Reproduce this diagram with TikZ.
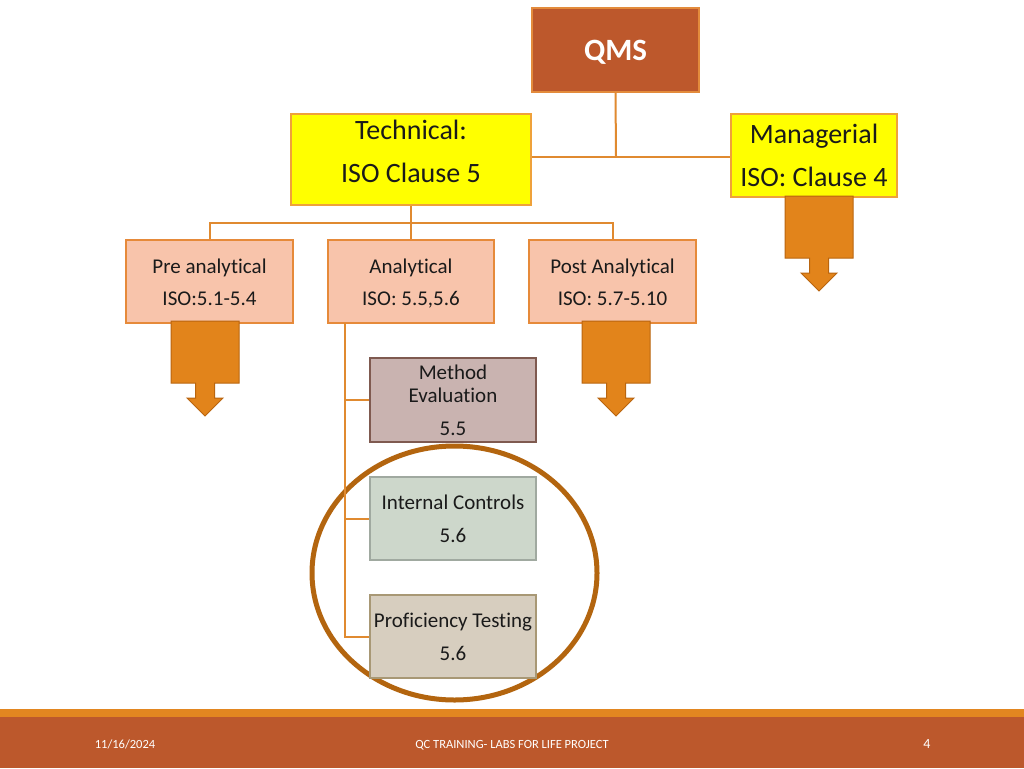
\documentclass[tikz,border=0pt]{standalone}
\usepackage{fontspec}
\setmainfont{Carlito}[Ligatures={NoCommon}]
\definecolor{qmsfill}{HTML}{BD582C}
\definecolor{qmsline}{HTML}{E38B3C}
\definecolor{ylw}{HTML}{FFFF00}
\definecolor{ylwline}{HTML}{EFA13A}
\definecolor{peach}{HTML}{F8C4AB}
\definecolor{peachline}{HTML}{E68A3A}
\definecolor{conn}{HTML}{E08A30}
\definecolor{arrfill}{HTML}{E2841B}
\definecolor{arrline}{HTML}{B9650F}
\definecolor{methfill}{HTML}{C9B3B0}
\definecolor{methline}{HTML}{7F5A50}
\definecolor{icfill}{HTML}{CDD7CB}
\definecolor{icline}{HTML}{A0A9A0}
\definecolor{ptfill}{HTML}{D7CEBF}
\definecolor{ptline}{HTML}{A89875}
\definecolor{ring}{HTML}{B3650F}
\definecolor{band}{HTML}{E28620}
\definecolor{foot}{HTML}{BC582C}
\definecolor{ink}{HTML}{1A1A1A}
\tikzset{
  box/.style={rectangle, inner sep=0pt, line width=1.2pt},
  txt/.style={anchor=base, inner sep=0pt, text=ink},
  big/.style={font=\fontsize{28}{32}\selectfont},
  mid/.style={font=\fontsize{21}{25}\selectfont},
  connector/.style={draw=conn, line width=2pt},
  callout/.pic={
    \draw[fill=arrfill, draw=arrline, line width=1pt]
      (-34,0) -- (34,0) -- (34,62) -- (9.5,62) -- (9.5,77) -- (18,77) --
      (0,95) -- (-18,77) -- (-9.5,77) -- (-9.5,62) -- (-34,62) -- cycle;
  }
}
\begin{document}
\begin{tikzpicture}[x=1pt,y=-1pt]
\useasboundingbox (0,0) rectangle (1024,768);
\fill[white] (0,0) rectangle (1024,768);

% highlight ring (behind boxes)
\draw[ring, line width=5pt] (454.5,573) ellipse [x radius=142.5pt, y radius=127pt];

% boxes
\node[box, fill=qmsfill, draw=qmsline, minimum width=167pt, minimum height=84pt] (qms) at (615.5,50) {};
\node[box, fill=ylw, draw=ylwline, minimum width=240pt, minimum height=91pt] (tech) at (411,159.5) {};
\node[box, fill=ylw, draw=ylwline, minimum width=166pt, minimum height=83pt] (mgr) at (814,155.5) {};
\node[box, fill=peach, draw=peachline, minimum width=167pt, minimum height=83pt] (pre) at (209.5,281.5) {};
\node[box, fill=peach, draw=peachline, minimum width=166pt, minimum height=83pt] (ana) at (411,281.5) {};
\node[box, fill=peach, draw=peachline, minimum width=167pt, minimum height=83pt] (post) at (612.5,281.5) {};
\node[box, fill=methfill, draw=methline, minimum width=166pt, minimum height=84pt] (meth) at (453,400) {};
\node[box, fill=icfill, draw=icline, minimum width=166pt, minimum height=83pt] (ic) at (453,518.5) {};
\node[box, fill=ptfill, draw=ptline, minimum width=166pt, minimum height=83pt] (pt) at (453,636.5) {};

% connectors
\coordinate (j) at (616,157);
\draw[connector] (qms.south) -- (j);
\draw[connector] (tech.east |- j) -- (mgr.west |- j);
\coordinate (t1) at (411,223);
\draw[connector] (tech.south) -- (t1);
\draw[connector] (pre.north) -- (pre.north |- t1) -- (post.north |- t1) -- (post.north);
\draw[connector] (ana.north |- t1) -- (ana.north);
\coordinate (a0) at (345,323);
\draw[connector] (a0) |- (meth.west);
\draw[connector] (a0) |- (ic.west);
\draw[connector] (a0) |- (pt.west);

% block arrows
\pic at (819,196) {callout};
\pic at (205,321) {callout};
\pic at (616,321) {callout};

% texts
\node[txt, text=white, font=\fontsize{31}{34}\selectfont\bfseries] (tq) at (615.5,60) {QMS};
\node[txt, big] (t1a) at (411,139) {Technical:};
\node[txt, big] (t1b) at (411,182) {ISO Clause 5};
\node[txt, big] (m1a) at (814,143) {Managerial};
\node[txt, big] (m1b) at (814,186) {ISO: Clause 4};
\node[txt, mid] (p1a) at (209.5,273) {Pre analytical};
\node[txt, mid] (p1b) at (209.5,305) {ISO:5.1-5.4};
\node[txt, mid] (a1a) at (411,273) {Analytical};
\node[txt, mid] (a1b) at (411,305) {ISO: 5.5,5.6};
\node[txt, mid] (s1a) at (612.5,273) {Post Analytical};
\node[txt, mid] (s1b) at (612.5,305) {ISO: 5.7-5.10};
\node[txt, mid] (e1a) at (453,379) {Method};
\node[txt, mid] (e1b) at (453,402) {Evaluation};
\node[txt, mid] (e1c) at (453,435) {5.5};
\node[txt, mid] (i1a) at (453,509) {Internal Controls};
\node[txt, mid] (i1b) at (453,542) {5.6};
\node[txt, mid] (q1a) at (453,627) {Proficiency Testing};
\node[txt, mid] (q1b) at (453,660) {5.6};

% footer
\fill[band] (0,709) rectangle (1024,717);
\fill[foot] (0,717) rectangle (1024,768);
\node[txt, text=white, font=\fontsize{12.5}{14}\selectfont] (fdate) at (125,748) {11/16/2024};
\node[txt, text=white, font=\fontsize{12.5}{14}\selectfont] (ftitle) at (512,748) {QC TRAINING- LABS FOR LIFE PROJECT};
\node[txt, text=white, font=\fontsize{14}{16}\selectfont] (fpage) at (927,748) {4};
\end{tikzpicture}
\end{document}
